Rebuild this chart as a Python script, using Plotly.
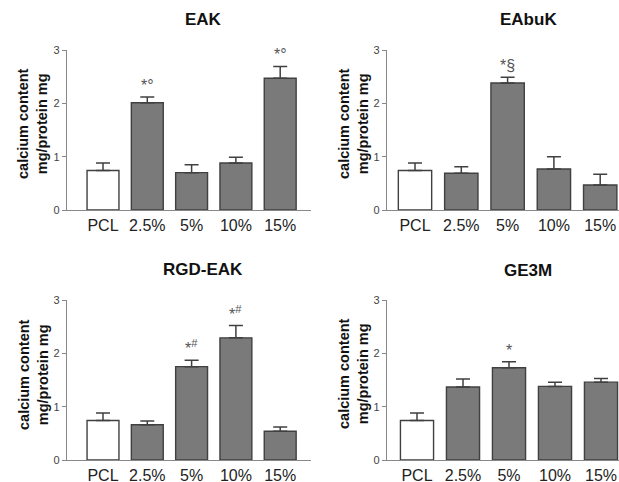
import plotly.graph_objects as go

W, H = 619, 482

categories = ["PCL", "2.5%", "5%", "10%", "15%"]
panel_titles = ["EAK", "EAbuK", "RGD-EAK", "GE3M"]

eak_mean = [0.74, 2.01, 0.70, 0.88, 2.47]
eak_upper = [0.88, 2.12, 0.85, 0.99, 2.69]
eabuk_mean = [0.74, 0.69, 2.38, 0.77, 0.47]
eabuk_upper = [0.88, 0.81, 2.49, 1.00, 0.67]
rgd_mean = [0.74, 0.66, 1.75, 2.29, 0.54]
rgd_upper = [0.88, 0.73, 1.87, 2.52, 0.62]
ge3m_mean = [0.74, 1.37, 1.73, 1.38, 1.46]
ge3m_upper = [0.88, 1.52, 1.84, 1.46, 1.53]

eak_marks = {"2.5%": "*°", "15%": "*°"}
eabuk_marks = {"5%": "*§"}
rgd_marks = {"5%": "*<sup>#</sup>", "10%": "*<sup>#</sup>"}
ge3m_marks = {"5%": "*"}

means = [eak_mean, eabuk_mean, rgd_mean, ge3m_mean]
uppers = [eak_upper, eabuk_upper, rgd_upper, ge3m_upper]
marks = [eak_marks, eabuk_marks, rgd_marks, ge3m_marks]

FONT = "Arial, Liberation Sans, sans-serif"

# pixel layout: (x_left, x_right, y_top(value 3), y_bottom(value 0), first bar center, spacing)
panels = [
    (67, 311, 50, 210, 103, 44.3),
    (387, 619, 50, 210, 415, 46.3),
    (67, 311, 300, 460, 103, 44.3),
    (387, 619, 300, 460, 417, 46.0),
]
title_pos = [(203, 20), (528, 20), (203, 269), (528, 270)]
ytitle_pos = [(33, 124), (354, 124), (33, 375), (353, 374)]


def px(x):
    return x / W


def py(y):
    return 1 - y / H


fig = go.Figure()
annotations = []
for i in range(4):
    xl, xr, yt, yb, c0, sp = panels[i]
    ax = "" if i == 0 else str(i + 1)
    m = means[i]
    u = uppers[i]
    colors = ["white"] + ["#7a7a7a"] * 4
    fig.add_trace(go.Bar(
        x=list(range(len(categories))), y=m,
        marker=dict(color=colors, line=dict(color="#404040", width=1.4)),
        width=0.72,
        error_y=dict(type="data", symmetric=False,
                     array=[uu - mm for uu, mm in zip(u, m)],
                     arrayminus=[0] * len(m),
                     color="#404040", thickness=1.5, width=7),
        xaxis="x" + ax, yaxis="y" + ax, showlegend=False, hoverinfo="skip",
    ))
    lo = (xl - c0) / sp
    hi = (xr - c0) / sp
    fig.update_layout(**{
        "xaxis" + ax: dict(domain=[px(xl), px(xr)], range=[lo, hi],
                           tickmode="array", tickvals=list(range(5)), ticktext=categories,
                           showline=True, linecolor="#888888", linewidth=1.3,
                           ticks="", showgrid=False, zeroline=False,
                           tickfont=dict(family=FONT, size=16, color="#222"),
                           anchor="y" + ax, fixedrange=True, automargin=False),
        "yaxis" + ax: dict(domain=[py(yb), py(yt)], range=[0, 3],
                           tickvals=[0, 1, 2, 3], showline=True, linecolor="#888888",
                           linewidth=1.3, ticks="outside", ticklen=4, tickcolor="#888888",
                           showgrid=False, zeroline=False,
                           tickfont=dict(family=FONT, size=11, color="#444"),
                           anchor="x" + ax, fixedrange=True, automargin=False),
    })
    for cat, txt in marks[i].items():
        k = categories.index(cat)
        annotations.append(dict(x=k, y=u[k] + 0.02, xref="x" + ax, yref="y" + ax,
                                text=txt, showarrow=False, yanchor="bottom", xanchor="center",
                                font=dict(family=FONT, size=16, color="#555")))
    tx, ty = title_pos[i]
    annotations.append(dict(x=px(tx), y=py(ty), xref="paper", yref="paper",
                            text="<b>" + panel_titles[i] + "</b>", showarrow=False,
                            xanchor="center", yanchor="middle",
                            font=dict(family=FONT, size=17, color="#111")))
    gx, gy = ytitle_pos[i]
    annotations.append(dict(x=px(gx), y=py(gy), xref="paper", yref="paper",
                            text="<b>calcium content<br>mg/protein mg</b>", showarrow=False,
                            textangle=-90, xanchor="center", yanchor="middle",
                            font=dict(family=FONT, size=14.5, color="#111")))

fig.update_layout(width=W, height=H, margin=dict(l=0, r=0, t=0, b=0, autoexpand=False),
                  paper_bgcolor="white", plot_bgcolor="white",
                  annotations=annotations, bargap=0.2, hovermode=False)
fig.write_html("out.html", config={"displayModeBar": False, "staticPlot": True},
               post_script="document.body.style.margin='0px';document.body.style.overflow='hidden';")
